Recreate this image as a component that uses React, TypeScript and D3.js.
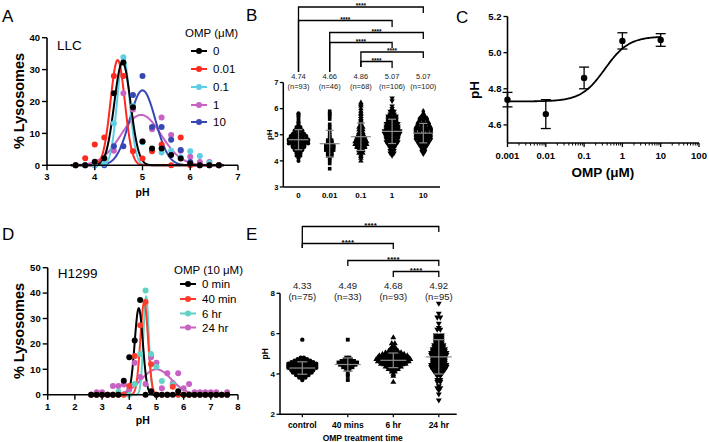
import React from 'react';
import * as d3 from 'd3';

const FONT = '"Liberation Sans", Arial, Helvetica, sans-serif';

// ---------------- Panel A (LLC) ----------------
const aPh = [3.6, 3.8, 4.0, 4.2, 4.4, 4.6, 4.8, 5.0, 5.2, 5.4, 5.6, 5.8, 6.0, 6.2, 6.4, 6.6];
const aLabels = ['0', '0.01', '0.1', '1', '10'];
const aColors = ['#000000', '#ff2a1f', '#5ccfe6', '#c862c2', '#3747b4'];
const aVals0 = [0, 0, 1.1, 2.2, 22.6, 32.2, 18.2, 7.5, 5.3, 5.3, 3.2, 2.1, 0.6, 0, 0, 0];
const aVals001 = [0, 2.2, 6.5, 8.7, 28, 28, 4.4, 2.1, 4.4, 6.5, 0, 8.7, 0, 0, 0, 0];
const aVals01 = [0, 0, 0, 0.5, 13.2, 33.9, 18.6, 7.2, 4.6, 4, 4.6, 2.5, 4.4, 2.9, 0.8, 0];
const aVals1 = [0, 0, 0, 0.6, 4.6, 22.6, 17.5, 7.5, 11.3, 15, 9.5, 4.6, 2.7, 1, 1, 0];
const aVals10 = [0, 0, 0, 0, 6, 6, 22, 28, 12, 12, 8, 4.8, 1, 0, 0, 0];
const aAmp = [32.3, 33, 34, 15.8, 23.5];
const aMu = [4.58, 4.48, 4.6, 4.97, 5.0];
const aSigma = [0.17, 0.15, 0.13, 0.42, 0.27];
const aXTicks = [3, 4, 5, 6, 7];
const aYTicks = [0, 10, 20, 30, 40];

// ---------------- Panel D (H1299) ----------------
const dPh = [2.6, 2.8, 3.0, 3.2, 3.4, 3.6, 3.8, 4.0, 4.2, 4.4, 4.6, 4.8, 5.0, 5.2, 5.4, 5.6, 5.8, 6.0, 6.2, 6.4, 6.6, 6.8, 7.0, 7.2, 7.4, 7.6];
const dLabels = ['0 min', '40 min', '6 hr', '24 hr'];
const dColors = ['#000000', '#ff3b2b', '#62d2c4', '#c862c2'];
const dVals0 = [0, 0, 0, 0, 0, 0, 5.5, 14.7, 21.3, 37.3, 0, 1.4, 0, 0, 0, 0, 1.4, 0, 0, 0, 0, 0, 0, 0, 0, 0];
const dVals40 = [0, 0, 0, 0, 0, 0, 0, 3.4, 15.2, 27.3, 36.5, 12, 0, 0, 0, 3.1, 0, 0, 0, 0, 0, 0, 0, 0, 0, 0];
const dVals6 = [0, 0, 0, 0, 0, 1.2, 0, 0, 4.2, 16, 41, 16, 11, 5.4, 0, 4, 0, 0, 0, 0, 0, 0, 0, 0, 0, 0];
const dVals24 = [0, 1, 1, 0, 3.4, 3.4, 4, 2, 12.6, 7, 4.2, 14.7, 12.6, 2.5, 8.4, 4.5, 8.4, 2.5, 4.2, 1, 1, 1, 1, 1, 0, 1];
const dAmp = [34, 36.5, 38.5, 10];
const dMu = [4.35, 4.55, 4.62, 5.0];
const dSigma = [0.15, 0.14, 0.1, 0.55];
const dXTicks = [1, 2, 3, 4, 5, 6, 7, 8];
const dYTicks = [0, 10, 20, 30, 40, 50];

// ---------------- Panel B (pH by OMP dose) ----------------
const bCats = ['0', '0.01', '0.1', '1', '10'];
const bMeanLabels = ['4.74', '4.66', '4.86', '5.07', '5.07'];
const bNLabels = ['(n=93)', '(n=46)', '(n=68)', '(n=106)', '(n=100)'];
const bBins0: [number, number][] = [[4.0, 1], [4.1, 1], [4.2, 3], [4.3, 4], [4.4, 6], [4.5, 8], [4.6, 11], [4.7, 12], [4.8, 10], [4.9, 9], [5.0, 7], [5.1, 6], [5.2, 4], [5.3, 3], [5.4, 2], [5.5, 2], [5.6, 1], [5.7, 2], [5.8, 2]];
const bBins001: [number, number][] = [[3.7, 1], [3.9, 1], [4.0, 1], [4.1, 2], [4.2, 4], [4.3, 4], [4.4, 5], [4.5, 6], [4.6, 5], [4.7, 4], [4.8, 3], [4.9, 2], [5.0, 1], [5.1, 1], [5.2, 1], [5.3, 1], [5.4, 1], [5.6, 1], [5.7, 1], [5.8, 2], [5.9, 1]];
const bBins01: [number, number][] = [[4.0, 1], [4.1, 1], [4.2, 2], [4.3, 3], [4.4, 4], [4.5, 6], [4.6, 7], [4.7, 7], [4.8, 6], [4.9, 5], [5.0, 4], [5.1, 3], [5.2, 3], [5.3, 3], [5.4, 2], [5.5, 2], [5.6, 2], [5.7, 1], [5.8, 2], [5.9, 1], [6.0, 1], [6.1, 1], [6.2, 2]];
const bBins1: [number, number][] = [[4.2, 1], [4.3, 3], [4.4, 3], [4.5, 4], [4.6, 6], [4.7, 7], [4.8, 8], [4.9, 8], [5.0, 9], [5.1, 9], [5.2, 8], [5.3, 7], [5.4, 7], [5.5, 6], [5.6, 6], [5.7, 5], [5.8, 3], [5.9, 3], [6.0, 1], [6.1, 1], [6.3, 1], [6.4, 1]];
const bBins10: [number, number][] = [[4.3, 2], [4.4, 3], [4.5, 4], [4.6, 6], [4.7, 7], [4.8, 9], [4.9, 9], [5.0, 10], [5.1, 10], [5.2, 9], [5.3, 8], [5.4, 7], [5.5, 6], [5.6, 5], [5.7, 3], [5.8, 2], [5.9, 1]];
const bYTicks = [3, 4, 5, 6, 7];
// brackets: [from index, to index, bracket y, left leg bottom, right leg bottom]
const bBrackets: [number, number, number, number, number][] = [
  [0, 4, 7, 72, 13], [0, 3, 20.5, 72, 27], [1, 4, 32.5, 72, 39],
  [1, 3, 42.5, 72, 48], [2, 4, 52, 67, 58], [2, 3, 61.5, 67, 68],
];

// ---------------- Panel C (dose response) ----------------
const cDose = [0.001, 0.01, 0.1, 1, 10];
const cMean = [4.74, 4.66, 4.86, 5.065, 5.07];
const cErr = [0.04, 0.08, 0.06, 0.045, 0.035];
const cBottom = 4.73, cTop = 5.09, cEC50 = 0.35, cHill = 1.4;
const cXTicks = [0.001, 0.01, 0.1, 1, 10, 100];
const cXTickLabels = ['0.001', '0.01', '0.1', '1', '10', '100'];
const cYTicks = [4.6, 4.8, 5.0, 5.2];

// ---------------- Panel E (pH over time) ----------------
const eCats = ['control', '40 mins', '6 hr', '24 hr'];
const eMeanLabels = ['4.33', '4.49', '4.68', '4.92'];
const eNLabels = ['(n=75)', '(n=33)', '(n=93)', '(n=95)'];
const eBinsC: [number, number][] = [[3.7, 1], [3.8, 3], [3.9, 5], [4.0, 7], [4.1, 8], [4.2, 10], [4.3, 10], [4.4, 10], [4.5, 8], [4.6, 6], [4.7, 4], [4.8, 2], [5.7, 1]];
const eBins40: [number, number][] = [[3.7, 1], [3.9, 1], [4.0, 1], [4.2, 2], [4.3, 4], [4.4, 6], [4.5, 7], [4.6, 5], [4.7, 3], [4.8, 2], [5.7, 1]];
const eBins6: [number, number][] = [[3.6, 1], [3.9, 1], [4.0, 1], [4.1, 2], [4.2, 4], [4.3, 6], [4.4, 9], [4.5, 11], [4.6, 12], [4.7, 11], [4.8, 10], [4.9, 8], [5.0, 6], [5.1, 4], [5.2, 3], [5.3, 2], [5.4, 1], [5.5, 2], [5.8, 1]];
const eBins24: [number, number][] = [[2.7, 1], [3.0, 1], [3.2, 1], [3.3, 2], [3.4, 1], [3.6, 2], [3.7, 2], [3.9, 2], [4.0, 3], [4.1, 4], [4.2, 5], [4.3, 6], [4.4, 6], [4.5, 5], [4.6, 5], [4.7, 5], [4.8, 5], [4.9, 6], [5.0, 6], [5.1, 5], [5.2, 5], [5.3, 4], [5.4, 4], [5.5, 3], [5.6, 3], [5.7, 3], [5.8, 3], [5.9, 3], [6.2, 2], [6.3, 1], [6.5, 1], [6.8, 2], [7.0, 1], [7.5, 1]];
const eYTicks = [2, 4, 6, 8];
const eBrackets: [number, number, number, number, number][] = [
  [0, 3, 226.5, 248, 232], [0, 2, 243.5, 248, 249], [1, 3, 260.5, 266, 266], [2, 3, 271.5, 277, 277],
];

// ---------------- helpers ----------------
const gauss = (x: number, a: number, m: number, s: number) => a * Math.exp(-((x - m) ** 2) / (2 * s * s));

function symbolPath(kind: string, size: number) {
  const t = kind === 'circle' ? d3.symbolCircle : kind === 'square' ? d3.symbolSquare : kind === 'diamond' ? d3.symbolDiamond : d3.symbolTriangle;
  return d3.symbol().type(t).size(size)() as string;
}

function swarm(bins: [number, number][], cx: number, y: (v: number) => number, dx: number, split: boolean, chev: number) {
  const pts: [number, number][] = [];
  bins.forEach(([p, c]) => {
    const rows: [number, number][] = split && c > 1 ? [[p - 0.025, Math.ceil(c / 2)], [p + 0.025, Math.floor(c / 2)]] : [[p, c]];
    rows.forEach(([pp, n]) => {
      for (let i = 0; i < n; i++) {
        const off = (i - (n - 1) / 2) * dx;
        pts.push([cx + off, y(pp) - chev * Math.abs(off)]);
      }
    });
  });
  return pts;
}

const expand = (bins: [number, number][]) => bins.flatMap(([p, c]) => d3.range(c).map(() => p));

// ---------- Distribution panel (A / D) ----------
function DistPanel(props: {
  x: d3.ScaleLinear<number, number>; y: d3.ScaleLinear<number, number>;
  xTicks: number[]; yTicks: number[]; ph: number[]; series: number[][];
  amp: number[]; mu: number[]; sigma: number[]; colors: string[];
  order: number[]; curveRange: [number, number]; cell: string; cellY: number;
  legendTitle: string; legendLabels: string[]; legendX: number; legendTitleY: number; legendYs: number[]; labelCy: number; phY: number;
}) {
  const { x, y, xTicks, yTicks, ph, series, amp, mu, sigma, colors, order } = props;
  const [x0, x1] = x.range();
  const [yb, yt] = y.range();
  const xs = d3.range(props.curveRange[0], props.curveRange[1] + 0.001, 0.01);
  const line = d3.line<number>().x(v => x(v));
  return (
    <g>
      {order.map(k => (
        <path key={'c' + k} d={line.y(v => y(gauss(v, amp[k], mu[k], sigma[k])))(xs) as string}
          fill="none" stroke={colors[k]} strokeWidth={2} />
      ))}
      {order.map(k => series[k].map((v, i) => (
        <circle key={'p' + k + '-' + i} cx={x(ph[i])} cy={y(v)} r={3} fill={colors[k]} />
      )))}
      <line x1={x0} x2={x0} y1={yb} y2={yt} stroke="#000" strokeWidth={1.6} />
      <line x1={x0} x2={x1} y1={yb} y2={yb} stroke="#000" strokeWidth={1.6} />
      {yTicks.map(t => (
        <g key={'yt' + t}>
          <line x1={x0 - 5} x2={x0} y1={y(t)} y2={y(t)} stroke="#000" strokeWidth={1.4} />
          <text x={x0 - 7} y={y(t)} dy="0.35em" textAnchor="end" fontSize={9.5} fontWeight="bold">{t}</text>
        </g>
      ))}
      {xTicks.map(t => (
        <g key={'xt' + t}>
          <line x1={x(t)} x2={x(t)} y1={yb} y2={yb + 5} stroke="#000" strokeWidth={1.4} />
          <text x={x(t)} y={yb + 15} textAnchor="middle" fontSize={9.5} fontWeight="bold">{t}</text>
        </g>
      ))}
      <text x={(x0 + x1) / 2} y={props.phY} textAnchor="middle" fontSize={10.5} fontWeight="bold">pH</text>
      <text transform={`translate(24,${props.labelCy}) rotate(-90)`} textAnchor="middle" fontSize={14.5} fontWeight="bold">% Lysosomes</text>
      <text x={x0 + 10} y={props.cellY} fontSize={13.5}>{props.cell}</text>
      <text x={props.legendX} y={props.legendTitleY} dy="0.35em" fontSize={11.5}>{props.legendTitle}</text>
      {props.legendLabels.map((lab, k) => (
        <g key={'lg' + k}>
          <line x1={props.legendX + 6} x2={props.legendX + 22} y1={props.legendYs[k]} y2={props.legendYs[k]} stroke={colors[k]} strokeWidth={2} />
          <circle cx={props.legendX + 14} cy={props.legendYs[k]} r={3} fill={colors[k]} />
          <text x={props.legendX + 28} y={props.legendYs[k]} dy="0.36em" fontSize={11.5}>{lab}</text>
        </g>
      ))}
    </g>
  );
}

// ---------- Scatter panel (B / E) ----------
function ScatterPanel(props: {
  cats: string[]; xPos: (i: number) => number; y: d3.ScaleLinear<number, number>; yTicks: number[];
  groups: [number, number][][]; kinds: string[]; symSize: number; dx: number; split: boolean; chev: number;
  xAxisEnd: number; yAxisX: number; meanLabels: string[]; nLabels: string[]; labFont: number; meanY: number; nY: number;
  brackets: [number, number, number, number, number][]; starFont: number; tickFont: number; tickY: number;
  yLabX: number; yLabFont: number; meanHalf: number; capHalf: number; xTickLen: number;
}) {
  const { y, xPos } = props;
  const [yb, yt] = y.range();
  return (
    <g>
      {props.groups.map((bins, gi) => {
        const pts = swarm(bins, xPos(gi), y, props.dx, props.split, props.chev);
        const path = symbolPath(props.kinds[gi], props.symSize);
        const rot = props.kinds[gi] === 'tridown' ? ' rotate(180)' : '';
        const vals = expand(bins);
        const m = d3.mean(vals) as number;
        const sd = d3.deviation(vals) as number;
        const cx = xPos(gi);
        return (
          <g key={'g' + gi}>
            {pts.map((p, i) => <path key={i} d={path} transform={`translate(${p[0]},${p[1]})${rot}`} fill="#000" />)}
            <g stroke="#8c8c8c" strokeWidth={1.2}>
              <line x1={cx - props.meanHalf} x2={cx + props.meanHalf} y1={y(m)} y2={y(m)} />
              <line x1={cx} x2={cx} y1={y(m - sd)} y2={y(m + sd)} />
              <line x1={cx - props.capHalf} x2={cx + props.capHalf} y1={y(m - sd)} y2={y(m - sd)} />
              <line x1={cx - props.capHalf} x2={cx + props.capHalf} y1={y(m + sd)} y2={y(m + sd)} />
            </g>
            <text x={cx} y={props.meanY} textAnchor="middle" fontSize={props.labFont} fill="#222">{props.meanLabels[gi]}</text>
            <text x={cx} y={props.nY} textAnchor="middle" fontSize={props.labFont} fill="#222">{props.nLabels[gi]}</text>
            <text x={cx} y={props.tickY} textAnchor="middle" fontSize={props.tickFont} fontWeight="bold">{props.cats[gi]}</text>
            {props.xTickLen > 0 && <line x1={cx} x2={cx} y1={yb} y2={yb + props.xTickLen} stroke="#000" strokeWidth={1.2} />}
          </g>
        );
      })}
      <line x1={props.yAxisX} x2={props.yAxisX} y1={yb} y2={yt} stroke="#000" strokeWidth={1.5} />
      <line x1={props.yAxisX} x2={props.xAxisEnd} y1={yb} y2={yb} stroke="#000" strokeWidth={1.5} />
      {props.yTicks.map(t => (
        <g key={'yt' + t}>
          <line x1={props.yAxisX - 3.5} x2={props.yAxisX} y1={y(t)} y2={y(t)} stroke="#000" strokeWidth={1.3} />
          <text x={props.yAxisX - 5} y={y(t)} dy="0.35em" textAnchor="end" fontSize={props.tickFont - 0.5} fontWeight="bold">{t}</text>
        </g>
      ))}
      <text transform={`translate(${props.yLabX},${(yb + yt) / 2}) rotate(-90)`} textAnchor="middle" fontSize={props.yLabFont} fontWeight="bold">pH</text>
      {props.brackets.map(([i1, i2, by, lb, rb], k) => {
        const xa = xPos(i1), xb = xPos(i2);
        return (
          <g key={'br' + k}>
            <path d={`M${xa},${lb}V${by}H${xb}V${rb}`} fill="none" stroke="#000" strokeWidth={1.3} />
            <text x={(xa + xb) / 2} y={by + props.starFont * 0.2} textAnchor="middle" fontSize={props.starFont} fontWeight="bold">****</text>
          </g>
        );
      })}
    </g>
  );
}

// ---------- Dose response panel (C) ----------
function DosePanel() {
  const x = d3.scaleLog().domain([0.001, 100]).range([507.5, 699]);
  const y = d3.scaleLinear().domain([4.5, 5.2]).range([143, 16.5]);
  const curveX = d3.range(-3, 1.0001, 0.02).map(v => Math.pow(10, v));
  const fit = (c: number) => cBottom + (cTop - cBottom) / (1 + Math.pow(cEC50 / c, cHill));
  const line = d3.line<number>().x(v => x(v)).y(v => y(fit(v)))(curveX) as string;
  const minor: number[] = [];
  for (let dd = -3; dd < 2; dd++) for (let k = 2; k <= 9; k++) minor.push(k * Math.pow(10, dd));
  return (
    <g>
      <path d={line} fill="none" stroke="#000" strokeWidth={1.8} />
      {cDose.map((c, i) => (
        <g key={'e' + i} stroke="#000" strokeWidth={1.3}>
          <line x1={x(c)} x2={x(c)} y1={y(cMean[i] - cErr[i])} y2={y(cMean[i] + cErr[i])} />
          <line x1={x(c) - 5} x2={x(c) + 5} y1={y(cMean[i] - cErr[i])} y2={y(cMean[i] - cErr[i])} />
          <line x1={x(c) - 5} x2={x(c) + 5} y1={y(cMean[i] + cErr[i])} y2={y(cMean[i] + cErr[i])} />
          <circle cx={x(c)} cy={y(cMean[i])} r={3.2} fill="#000" stroke="none" />
        </g>
      ))}
      <line x1={x(0.001)} x2={x(0.001)} y1={143} y2={16.5} stroke="#000" strokeWidth={1.6} />
      <line x1={x(0.001)} x2={x(100)} y1={143} y2={143} stroke="#000" strokeWidth={1.6} />
      {cYTicks.map(t => (
        <g key={'cy' + t}>
          <line x1={x(0.001) - 4} x2={x(0.001)} y1={y(t)} y2={y(t)} stroke="#000" strokeWidth={1.3} />
          <text x={x(0.001) - 6} y={y(t)} dy="0.35em" textAnchor="end" fontSize={9.5} fontWeight="bold">{t.toFixed(1)}</text>
        </g>
      ))}
      {minor.map((t, i) => (
        <line key={'mn' + i} x1={x(t)} x2={x(t)} y1={143} y2={145.5} stroke="#000" strokeWidth={1} />
      ))}
      {cXTicks.map((t, i) => (
        <g key={'cx' + i}>
          <line x1={x(t)} x2={x(t)} y1={143} y2={147} stroke="#000" strokeWidth={1.3} />
          <text x={x(t)} y={159} textAnchor="middle" fontSize={9.5} fontWeight="bold">{cXTickLabels[i]}</text>
        </g>
      ))}
      <text x={603} y={177} textAnchor="middle" fontSize={13.5} fontWeight="bold">OMP (μM)</text>
      <text transform="translate(479,90) rotate(-90)" textAnchor="middle" fontSize={13.5} fontWeight="bold">pH</text>
    </g>
  );
}

export default function App() {
  const xA = d3.scaleLinear().domain([3, 7]).range([47, 238]);
  const yA = d3.scaleLinear().domain([0, 40]).range([165.3, 37.7]);
  const xD = d3.scaleLinear().domain([1, 8]).range([47.7, 238]);
  const yD = d3.scaleLinear().domain([0, 50]).range([394.7, 267.7]);
  const yB = d3.scaleLinear().domain([3, 7]).range([187, 82.5]);
  const yE = d3.scaleLinear().domain([2, 8]).range([414.3, 293.3]);
  const xB = (i: number) => 298.5 + 31.2 * i;
  const xE = (i: number) => 302.3 + 45.5 * i;

  return (
    <svg width={709} height={442} style={{ position: 'absolute', left: 0, top: 0, background: '#fff', fontFamily: FONT }}>
      <rect width={709} height={442} fill="#fff" />
      <text x={2} y={21.5} fontSize={17}>A</text>
      <text x={246} y={20.5} fontSize={17}>B</text>
      <text x={456} y={23} fontSize={17}>C</text>
      <text x={2} y={240} fontSize={17}>D</text>
      <text x={246} y={240} fontSize={17}>E</text>

      <DistPanel x={xA} y={yA} xTicks={aXTicks} yTicks={aYTicks} ph={aPh}
        series={[aVals0, aVals001, aVals01, aVals1, aVals10]} amp={aAmp} mu={aMu} sigma={aSigma}
        colors={aColors} order={[3, 4, 2, 1, 0]} curveRange={[3.5, 6.7]} cell="LLC" cellY={50}
        legendTitle="OMP (μM)" legendLabels={aLabels} legendX={185} legendTitleY={33}
        legendYs={[51, 69, 87, 105, 122]} labelCy={101} phY={196} />

      <DistPanel x={xD} y={yD} xTicks={dXTicks} yTicks={dYTicks} ph={dPh}
        series={[dVals0, dVals40, dVals6, dVals24]} amp={dAmp} mu={dMu} sigma={dSigma}
        colors={dColors} order={[3, 2, 1, 0]} curveRange={[2.5, 7.7]} cell="H1299" cellY={278}
        legendTitle="OMP (10 μM)" legendLabels={dLabels} legendX={174} legendTitleY={270}
        legendYs={[284, 299, 313.5, 327.5]} labelCy={331} phY={424} />

      <ScatterPanel cats={bCats} xPos={xB} y={yB} yTicks={bYTicks}
        groups={[bBins0, bBins001, bBins01, bBins1, bBins10]}
        kinds={['circle', 'square', 'triangle', 'tridown', 'diamond']} symSize={13} dx={3.9} split={true} chev={0.25}
        xAxisEnd={440} yAxisX={283.3} meanLabels={bMeanLabels} nLabels={bNLabels} labFont={7.5}
        meanY={78.5} nY={88.5} brackets={bBrackets} starFont={6.5} tickFont={8} tickY={198}
        yLabX={272} yLabFont={8} meanHalf={10} capHalf={4} xTickLen={0} />

      <ScatterPanel cats={eCats} xPos={xE} y={yE} yTicks={eYTicks}
        groups={[eBinsC, eBins40, eBins6, eBins24]}
        kinds={['circle', 'square', 'triangle', 'tridown']} symSize={15} dx={3.1} split={false} chev={0.15}
        xAxisEnd={456.7} yAxisX={280} meanLabels={eMeanLabels} nLabels={eNLabels} labFont={9.5}
        meanY={289} nY={299.5} brackets={eBrackets} starFont={8} tickFont={8.5} tickY={427.5}
        yLabX={268} yLabFont={8.5} meanHalf={13} capHalf={5} xTickLen={3} />
      <text x={362.7} y={441} textAnchor="middle" fontSize={8.5} fontWeight="bold">OMP treatment time</text>

      <DosePanel />
    </svg>
  );
}
